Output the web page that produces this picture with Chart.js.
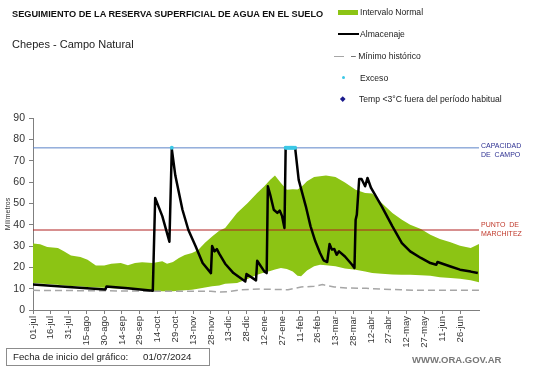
<!DOCTYPE html>
<html>
<head>
<meta charset="utf-8">
<script src="https://cdn.jsdelivr.net/npm/chart.js@4.4.1/dist/chart.umd.min.js"></script>
<style>
  html, body { margin: 0; padding: 0; background: #fff; }
  #wrap { position: relative; width: 541px; height: 368px; overflow: hidden; font-family: "Liberation Sans", Arial, sans-serif; color: #222; }
  #chart { position: absolute; left: 0; top: 0; }
  .txt { position: absolute; white-space: pre; line-height: 1; }
  .sw { position: absolute; }
</style>
</head>
<body>
<div id="wrap">
  <canvas id="chart" width="541" height="368"></canvas>

  <div class="txt" style="left:12px; top:10px; font-size:9.2px; font-weight:bold; color:#111;">SEGUIMIENTO DE LA RESERVA SUPERFICIAL DE AGUA EN EL SUELO</div>
  <div class="txt" style="left:12px; top:39px; font-size:11px; color:#222;">Chepes - Campo Natural</div>

  <!-- legend -->
  <div class="sw" style="left:338px; top:10px; width:20px; height:5px; background:#8cc414;"></div>
  <div class="txt" style="left:360px; top:7.5px; font-size:8.6px;">Intervalo Normal</div>
  <div class="sw" style="left:338px; top:33px; width:21px; height:2px; background:#000;"></div>
  <div class="txt" style="left:360px; top:29.5px; font-size:8.6px;">Almacenaje</div>
  <div class="sw" style="left:334px; top:55.5px; width:10px; height:1.5px; background:#a6a6a6;"></div>
  <div class="txt" style="left:351px; top:51.5px; font-size:8.6px;">– Mínimo histórico</div>
  <div class="sw" style="left:341.5px; top:75.5px; width:3px; height:3px; border-radius:50%; background:#3cc8e6;"></div>
  <div class="txt" style="left:360px; top:73.5px; font-size:8.6px;">Exceso</div>
  <div class="sw" style="left:341px; top:97px; width:3.5px; height:3.5px; background:#1a1a8c; transform:rotate(45deg);"></div>
  <div class="txt" style="left:359px; top:94.5px; font-size:8.6px;">Temp &lt;3°C fuera del período habitual</div>

  <!-- reference line labels -->
  <div class="txt" style="left:481px; top:140.5px; font-size:7px; line-height:9.3px; color:#2e3192;">CAPACIDAD
DE  CAMPO</div>
  <div class="txt" style="left:481px; top:220px; font-size:7px; line-height:9px; color:#c0392b;">PUNTO  DE
MARCHITEZ</div>

  <!-- footer -->
  <div class="sw" style="left:6px; top:348px; width:204px; height:18px; border:1px solid #8c8c8c; box-sizing:border-box;"></div>
  <div class="txt" style="left:13px; top:352px; font-size:9.7px; color:#222;">Fecha de inicio del gráfico:</div>
  <div class="txt" style="left:143px; top:352px; font-size:9.7px; color:#222;">01/07/2024</div>
  <div class="txt" style="left:412px; top:355px; font-size:9.5px; font-weight:bold; color:#777;">WWW.ORA.GOV.AR</div>
</div>

<script>
// tick labels every 15 days from 01-jul
const xLabels = ['01-jul', '16-jul', '31-jul', '15-ago', '30-ago', '14-sep', '29-sep', '14-oct', '29-oct',
  '13-nov', '28-nov', '13-dic', '28-dic', '12-ene', '27-ene', '11-feb', '26-feb', '13-mar', '28-mar',
  '12-abr', '27-abr', '12-may', '27-may', '11-jun', '26-jun'];
const lastDay = 376;

// normal interval (green band), days since 01-jul
const bandDays = [0, 6, 12, 21, 26, 32, 40, 46, 53, 60, 66, 74, 80, 86, 92, 101, 109, 113, 118, 123, 128,
  134, 139, 145, 151, 157, 162, 172, 181, 189, 195, 200, 204, 209, 214, 219, 223, 226, 231, 237, 242,
  247, 255, 263, 272, 280, 286, 294, 303, 311, 318, 327, 335, 343, 352, 360, 369, 376];
const bandUpper = [31.2, 30.8, 29.5, 29.1, 27.5, 25.5, 24.8, 23.6, 20.9, 20.9, 21.7, 22.0, 21.0, 22.0, 22.4,
  22.0, 22.8, 21.7, 22.5, 24.4, 25.8, 26.7, 28.0, 31.5, 34.5, 37.2, 38.4, 45.5, 50.2, 54.9, 58.0, 61.1,
  63.0, 59.5, 56.4, 56.6, 56.5, 57.5, 60.3, 62.3, 62.7, 63.0, 62.3, 59.8, 56.4, 54.9, 54.6, 50.2, 45.5,
  42.3, 40.0, 38.0, 35.3, 33.3, 31.7, 30.1, 29.1, 30.9];
const bandLower = [12.6, 12.4, 12.2, 11.8, 11.5, 11.2, 11.0, 10.8, 10.6, 10.4, 10.2, 10.0, 9.8, 9.5, 9.2,
  8.9, 8.8, 8.8, 8.8, 9.0, 9.2, 9.5, 10.0, 10.6, 11.1, 11.5, 12.3, 12.6, 14.5, 16.5, 17.6, 18.3, 19.0,
  19.7, 19.2, 18.1, 16.0, 15.8, 18.5, 20.5, 21.2, 21.0, 20.5, 19.5, 18.9, 18.0, 17.3, 17.0, 16.6, 16.5,
  16.5, 16.3, 16.0, 15.4, 15.0, 14.6, 14.0, 13.0];

// soil water storage
const storageDays = [0, 30, 61, 62, 80, 101, 103, 109, 112, 115, 117, 120, 126, 131, 137, 143, 150, 151,
  153, 155, 157, 162, 169, 179, 180, 188, 189, 195, 197, 198, 200, 203, 206, 208, 210, 212, 213, 221,
  224, 230, 234, 238, 242, 245, 248, 250, 252, 254, 256, 258, 263, 269, 271, 272, 273, 275, 277, 280,
  282, 285, 294, 303, 311, 318, 327, 335, 340, 341, 352, 360, 369, 375];
const storageVals = [12.0, 10.8, 9.6, 11.0, 10.2, 9.0, 52.5, 44.0, 38.0, 32.0, 75.5, 63.0, 47.0, 37.5,
  30.0, 22.0, 17.3, 30.0, 27.5, 28.5, 26.4, 21.7, 17.3, 13.4, 16.9, 13.9, 23.1, 18.1, 17.3, 58.0, 54.0,
  47.0, 45.5, 46.6, 44.0, 38.4, 76.0, 76.0, 61.0, 48.6, 39.2, 32.2, 26.7, 23.3, 22.5, 30.9, 28.3, 28.6,
  25.9, 27.5, 25.1, 21.2, 19.7, 42.3, 44.7, 61.4, 61.4, 58.0, 61.9, 57.2, 48.6, 39.2, 31.4, 27.5, 24.4,
  22.0, 21.2, 22.5, 20.4, 18.9, 18.0, 17.3];

// historical minimum
const minDays = [0, 60, 100, 150, 158, 165, 175, 192, 215, 226, 237, 244, 254, 264, 281, 293, 310, 324, 376];
const minVals = [9.2, 9.0, 8.8, 8.8, 8.4, 8.6, 9.5, 9.8, 9.5, 10.8, 11.1, 11.9, 10.8, 10.3, 10.2, 9.8, 9.5, 9.2, 9.2];

// excess days (storage at field capacity)
const excessDays = [117, 213, 214, 215, 216, 217, 218, 219, 220, 221];
const excessVals = [76, 76, 76, 76, 76, 76, 76, 76, 76, 76];

const fieldCapacity = 76;
const wiltingPoint = 37.5;

const toPoints = (days, vals) => days.map((d, i) => ({ x: d, y: vals[i] }));
const flat = (v) => [{ x: 0, y: v }, { x: lastDay, y: v }];

Chart.defaults.font.family = '"Liberation Sans", Arial, sans-serif';

new Chart(document.getElementById('chart'), {
  type: 'line',
  data: {
    datasets: [
      {
        label: 'Exceso',
        type: 'scatter',
        data: toPoints(excessDays, excessVals),
        backgroundColor: '#3cc8e6',
        borderColor: '#3cc8e6',
        pointRadius: 2,
        pointBorderWidth: 0,
        order: 0
      },
      {
        label: 'Almacenaje',
        data: toPoints(storageDays, storageVals),
        borderColor: '#000',
        borderWidth: 2.5,
        borderJoinStyle: 'round',
        pointRadius: 0,
        order: 1
      },
      {
        label: 'Capacidad de campo',
        data: flat(fieldCapacity),
        borderColor: '#5b84c8',
        borderWidth: 1,
        pointRadius: 0,
        order: 2
      },
      {
        label: 'Punto de marchitez',
        data: flat(wiltingPoint),
        borderColor: '#b02020',
        borderWidth: 1,
        pointRadius: 0,
        order: 2
      },
      {
        label: 'Mínimo histórico',
        data: toPoints(minDays, minVals),
        borderColor: '#a6a6a6',
        borderWidth: 1.5,
        borderDash: [7, 4],
        pointRadius: 0,
        order: 3
      },
      {
        label: 'Intervalo Normal',
        data: toPoints(bandDays, bandUpper),
        borderWidth: 0,
        borderColor: '#8cc414',
        backgroundColor: '#8cc414',
        fill: 6,
        pointRadius: 0,
        order: 4
      },
      {
        label: 'Intervalo inferior',
        data: toPoints(bandDays, bandLower),
        borderWidth: 0,
        borderColor: 'rgba(0,0,0,0)',
        pointRadius: 0,
        fill: false,
        order: 5
      }
    ]
  },
  options: {
    responsive: false,
    animation: false,
    layout: { padding: { top: 118, right: 62, bottom: 0, left: 0 } },
    plugins: {
      legend: { display: false },
      tooltip: { enabled: false }
    },
    scales: {
      x: {
        type: 'linear',
        min: 0,
        max: lastDay,
        afterFit: (scale) => { scale.height = 58; },
        afterBuildTicks: (scale) => { scale.ticks = xLabels.map((_, i) => ({ value: i * 15 })); },
        ticks: {
          autoSkip: false,
          maxRotation: 90,
          minRotation: 90,
          padding: 2,
          color: '#333',
          font: { size: 9.5 },
          callback: (v) => xLabels[Math.round(v / 15)] ?? ''
        },
        grid: { drawOnChartArea: false, tickLength: 4, color: '#7f7f7f' },
        border: { color: '#7f7f7f' }
      },
      y: {
        min: 0,
        max: 90,
        afterFit: (scale) => { scale.width = 33; },
        ticks: { stepSize: 10, padding: 4, color: '#333', font: { size: 10.5 } },
        grid: { drawOnChartArea: false, tickLength: 4, color: '#7f7f7f' },
        border: { color: '#7f7f7f' },
        title: { display: true, text: 'Milímetros', color: '#333', font: { size: 7 }, padding: { top: 4, bottom: 0 } }
      }
    }
  }
});
</script>
</body>
</html>
